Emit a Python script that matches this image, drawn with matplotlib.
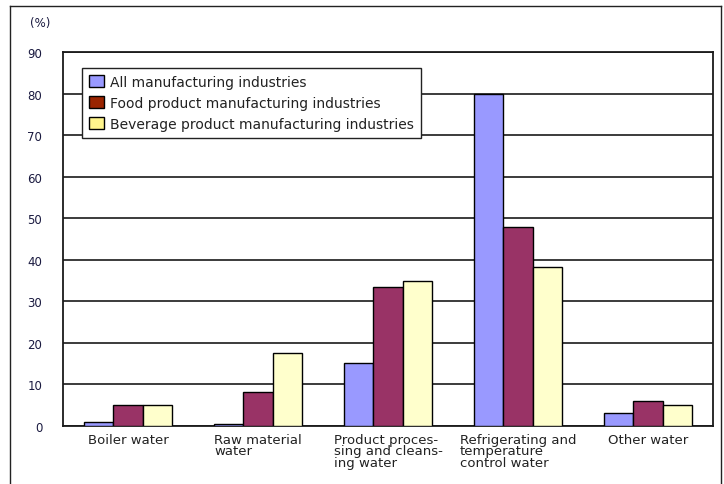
import matplotlib
matplotlib.use("Agg")
import matplotlib.pyplot as plt
import numpy as np
from matplotlib.patches import Patch
from matplotlib.lines import Line2D

categories = ["Boiler water", "Raw material\nwater", "Product proces-\nsing and cleans-\ning water",
              "Refrigerating and\ntemperature\ncontrol water", "Other water"]
series_names = ["All manufacturing industries", "Food product manufacturing industries",
                "Beverage product manufacturing industries"]
all_mfg = [1.0, 0.4, 15.2, 79.8, 3.2]
food = [5.0, 8.2, 33.4, 47.8, 6.0]
beverage = [5.0, 17.5, 34.8, 38.2, 5.0]
yticks = [0, 10, 20, 30, 40, 50, 60, 70, 80, 90]

bar_colors = ["#9999FF", "#993366", "#FFFFCC"]
legend_colors = ["#9999FF", "#9A2400", "#FFF58C"]

plt.rcParams['font.family'] = ['DejaVu Sans']
fig = plt.figure(figsize=(7.24, 4.85), dpi=100)
ax = fig.add_axes([63/724, 1-427/485, 650/724, 374/485])

x = np.arange(len(categories))
w = 0.225
for i, (vals, c) in enumerate(zip([all_mfg, food, beverage], bar_colors)):
    ax.bar(x + (i-1)*w, vals, width=w, color=c, edgecolor="black", linewidth=1.0, zorder=3)

ax.set_xlim(-0.5, len(categories)-0.5)
ax.set_ylim(0, 90)
ax.set_yticks(yticks)
ax.set_yticklabels([str(t) for t in yticks], fontsize=8.5, color="#1a1a40")
ax.yaxis.grid(True, color="#1a1a1a", linewidth=1.2, zorder=0)
ax.set_axisbelow(True)
ax.tick_params(axis='y', length=0, pad=15)
ax.tick_params(axis='x', length=0, pad=5)
ax.set_xticks(x)
ax.set_xticklabels(categories, fontsize=9.5, multialignment='left', linespacing=0.85, color="#222222")
for s in ax.spines.values():
    s.set_color("#1a1a1a")
    s.set_linewidth(1.3)

handles = [Patch(facecolor=c, edgecolor="black", linewidth=1.0) for c in legend_colors]
leg = ax.legend(handles, series_names, loc="upper left", bbox_to_anchor=((82-63)/650, (427-69)/374),
                borderaxespad=0, fontsize=10, frameon=True, fancybox=False, framealpha=1.0,
                handlelength=1.05, handleheight=1.0, handletextpad=0.5, labelspacing=0.5, borderpad=0.5)
leg.get_frame().set_edgecolor("#222222")
leg.get_frame().set_linewidth(1.0)
for t in leg.get_texts():
    t.set_color("#222222")

fig.text(30/724, 1-23/485, "(%)", fontsize=8.5, va="center", ha="left", color="#1a1a40")

# outer frame
fig.add_artist(Line2D([10/724, 10/724], [0, 1-7/485], transform=fig.transFigure, color="#222222", linewidth=1.0))
fig.add_artist(Line2D([10/724, 721/724], [1-7/485, 1-7/485], transform=fig.transFigure, color="#222222", linewidth=1.0))
fig.add_artist(Line2D([721/724, 721/724], [0, 1-7/485], transform=fig.transFigure, color="#222222", linewidth=1.0))

fig.savefig("out.png", dpi=100)
